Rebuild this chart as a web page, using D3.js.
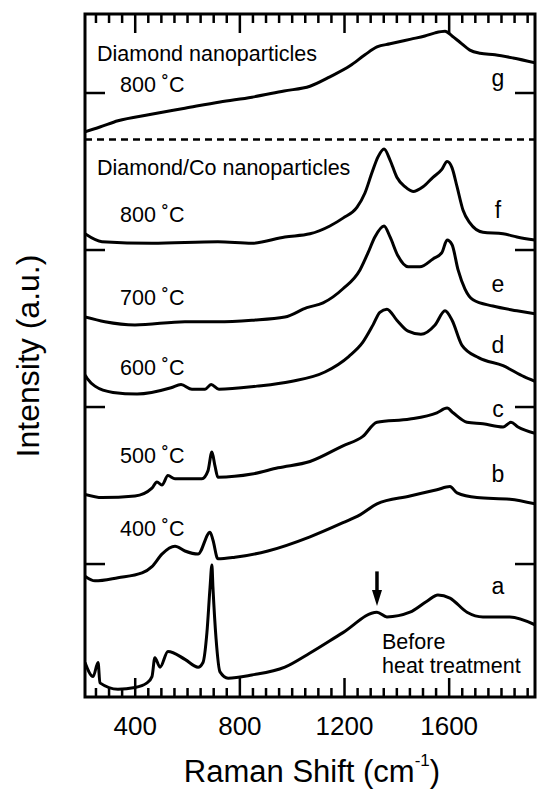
<!DOCTYPE html>
<html>
<head>
<meta charset="utf-8">
<script src="https://cdn.jsdelivr.net/npm/d3@7"></script>
<style>
  body { margin: 0; background: #fff; }
  text { font-family: "Liberation Sans", Arial, sans-serif; fill: #000; }
</style>
</head>
<body>
<div id="chart"></div>
<script>
// Raman shift (cm-1) and stacked intensity (a.u.)
const gShift = [210, 267, 336, 458, 592, 726, 848, 971, 1070, 1146, 1223, 1280, 1326, 1376, 1456, 1509, 1548, 1586, 1613, 1643, 1681, 1720, 1777, 1846, 1930];
const gInt   = [27.5, 27.8, 28.2, 28.6, 29.0, 29.4, 29.7, 30.1, 30.4, 31.0, 31.7, 32.4, 32.9, 33.1, 33.4, 33.6, 33.8, 33.9, 33.6, 33.2, 32.7, 32.5, 32.4, 32.2, 31.9];

const fShift = [210, 275, 466, 718, 848, 974, 1070, 1146, 1196, 1250, 1280, 1307, 1330, 1353, 1376, 1402, 1433, 1464, 1502, 1540, 1574, 1594, 1613, 1632, 1655, 1681, 1731, 1808, 1861, 1930];
const fInt   = [21.0, 20.5, 20.4, 20.5, 20.4, 20.8, 21.0, 21.5, 22.0, 22.7, 23.6, 24.9, 25.9, 26.4, 25.7, 24.6, 24.0, 23.7, 24.0, 24.6, 25.1, 25.6, 25.2, 24.0, 22.5, 21.7, 21.1, 21.0, 20.8, 20.6];

const eShift = [210, 286, 401, 592, 718, 848, 974, 1058, 1120, 1196, 1261, 1292, 1318, 1353, 1376, 1406, 1445, 1490, 1540, 1574, 1594, 1613, 1636, 1662, 1693, 1769, 1861, 1930];
const eInt   = [15.7, 15.4, 15.2, 15.4, 15.4, 15.5, 15.7, 16.3, 16.6, 17.5, 18.7, 19.8, 20.8, 21.5, 20.8, 19.6, 18.9, 18.9, 19.4, 19.8, 20.6, 20.3, 18.7, 17.5, 16.8, 16.4, 16.1, 15.9];

const dShift = [210, 218, 248, 317, 409, 539, 577, 619, 669, 692, 722, 867, 997, 1127, 1219, 1272, 1311, 1337, 1364, 1402, 1445, 1494, 1548, 1586, 1613, 1651, 1716, 1808, 1888, 1930];
const dInt   = [12.0, 11.8, 11.3, 10.9, 10.8, 11.2, 11.4, 11.1, 11.1, 11.4, 11.1, 11.3, 11.6, 12.2, 13.2, 14.1, 15.2, 16.0, 16.2, 15.5, 14.8, 14.6, 15.2, 16.1, 15.5, 13.9, 13.1, 12.6, 11.9, 11.6];

const cShift = [210, 275, 401, 466, 485, 504, 527, 554, 657, 680, 695, 707, 718, 848, 948, 1070, 1196, 1272, 1326, 1452, 1555, 1594, 1617, 1670, 1731, 1808, 1838, 1865, 1930];
const cInt   = [4.4, 4.2, 4.3, 4.8, 5.2, 5.0, 5.6, 5.4, 5.4, 5.9, 7.1, 6.2, 5.5, 5.7, 6.1, 6.5, 7.5, 8.1, 9.0, 9.2, 9.6, 9.9, 9.6, 9.0, 8.9, 8.7, 9.0, 8.7, 8.3];

const bShift = [210, 248, 336, 428, 466, 504, 554, 592, 642, 688, 699, 718, 783, 909, 1070, 1196, 1261, 1326, 1452, 1555, 1605, 1632, 1708, 1834, 1930];
const bInt   = [-0.8, -1.1, -0.9, -0.6, -0.2, 0.6, 1.1, 0.8, 0.6, 2.0, 1.5, 0.3, 0.4, 0.8, 1.7, 2.6, 3.1, 3.8, 4.3, 4.7, 4.9, 4.5, 4.2, 4.1, 3.8];

const aShift = [210, 241, 260, 267, 336, 401, 447, 466, 477, 497, 527, 592, 642, 661, 676, 688, 695, 699, 711, 726, 757, 848, 974, 1070, 1196, 1326, 1364, 1452, 1517, 1559, 1605, 1670, 1731, 1834, 1930];
const aInt   = [-6.3, -7.2, -6.3, -7.6, -8.0, -7.9, -7.6, -7.2, -6.0, -6.6, -5.6, -6.1, -6.6, -6.3, -4.4, -1.5, -0.1, -1.5, -4.8, -6.9, -7.3, -7.1, -6.6, -5.7, -4.4, -3.1, -3.4, -3.1, -2.4, -2.0, -2.2, -3.1, -3.4, -3.4, -3.9];

const curveLetters = ["g", "f", "e", "d", "c", "b", "a"];
const tempLabels = ["800 ˚C", "800 ˚C", "700 ˚C", "600 ˚C", "500 ˚C", "400 ˚C"];
const majorTicks = [400, 800, 1200, 1600];
const minorTicks = d3.range(250, 1930, 50).filter(v => v % 400 !== 0);
const yTicks = [0, 10, 20, 30];
const dashedLevel = 27;
const arrowShift = 1326, arrowTop = -0.5, arrowTip = -2.7;

const spectra = [
  { shift: gShift, inten: gInt },
  { shift: fShift, inten: fInt },
  { shift: eShift, inten: eInt },
  { shift: dShift, inten: dInt },
  { shift: cShift, inten: cInt },
  { shift: bShift, inten: bInt },
  { shift: aShift, inten: aInt }
];

const W = 537, H = 789;
const plotL = 85, plotR = 535, plotT = 14, plotB = 697;

const svg = d3.select("#chart").append("svg")
  .attr("width", W).attr("height", H);

const x = d3.scaleLinear().domain([210, 1930]).range([plotL, plotR]);
const y = d3.scaleLinear().domain([-8.5, 35]).range([plotB, plotT]);

svg.append("clipPath").attr("id", "plot")
  .append("rect").attr("x", plotL).attr("y", plotT)
  .attr("width", plotR - plotL).attr("height", plotB - plotT);

// spectra
const line = d3.line().x(d => x(d[0])).y(d => y(d[1])).curve(d3.curveMonotoneX);
svg.append("g").attr("clip-path", "url(#plot)")
  .selectAll("path")
  .data(spectra)
  .enter().append("path")
  .attr("d", s => line(s.shift.map((v, i) => [v, s.inten[i]])))
  .attr("fill", "none")
  .attr("stroke", "#000")
  .attr("stroke-width", 3)
  .attr("stroke-linejoin", "round");

// dashed separator
svg.append("line")
  .attr("x1", plotL).attr("x2", plotR)
  .attr("y1", y(dashedLevel)).attr("y2", y(dashedLevel))
  .attr("stroke", "#000").attr("stroke-width", 2.5)
  .attr("stroke-dasharray", "7,5");

// axes
function styleAxis(g) {
  g.select(".domain").remove();
  g.selectAll(".tick line").attr("stroke", "#000").attr("stroke-width", 2.5);
}
svg.append("g").attr("transform", `translate(0,${plotB})`)
  .call(d3.axisBottom(x).tickValues(minorTicks).tickSize(-9).tickFormat(""))
  .call(styleAxis);
svg.append("g").attr("transform", `translate(0,${plotB})`)
  .call(d3.axisBottom(x).tickValues(majorTicks).tickSize(-19).tickPadding(20)
    .tickFormat(d3.format("d")))
  .call(styleAxis)
  .call(g => g.selectAll(".tick text")
    .attr("font-size", 26)
    .attr("font-family", '"Liberation Sans", Arial, sans-serif')
    .attr("fill", "#000"));
svg.append("g").attr("transform", `translate(0,${plotT})`)
  .call(d3.axisTop(x).tickValues(minorTicks).tickSize(-9).tickFormat(""))
  .call(styleAxis);
svg.append("g").attr("transform", `translate(0,${plotT})`)
  .call(d3.axisTop(x).tickValues(majorTicks).tickSize(-19).tickFormat(""))
  .call(styleAxis);
svg.append("g").attr("transform", `translate(${plotL},0)`)
  .call(d3.axisLeft(y).tickValues(yTicks).tickSize(-20).tickFormat(""))
  .call(styleAxis);
svg.append("g").attr("transform", `translate(${plotR},0)`)
  .call(d3.axisRight(y).tickValues(yTicks).tickSize(-20).tickFormat(""))
  .call(styleAxis);

// frame
svg.append("rect")
  .attr("x", plotL).attr("y", plotT)
  .attr("width", plotR - plotL).attr("height", plotB - plotT)
  .attr("fill", "none").attr("stroke", "#000").attr("stroke-width", 3);

// arrow marking the feature near 1320 cm-1
svg.append("line")
  .attr("x1", x(arrowShift)).attr("x2", x(arrowShift))
  .attr("y1", y(arrowTop)).attr("y2", y(arrowTip) - 8)
  .attr("stroke", "#000").attr("stroke-width", 3.5);
svg.append("path")
  .attr("d", `M${x(arrowShift) - 5},${y(arrowTip) - 16} L${x(arrowShift) + 5},${y(arrowTip) - 16} L${x(arrowShift)},${y(arrowTip)} Z`)
  .attr("fill", "#000");

// annotations
const letterY = [86, 218, 292, 353, 417, 482, 594];
svg.selectAll(".letter").data(curveLetters).enter().append("text")
  .attr("class", "letter")
  .attr("x", 498).attr("y", (d, i) => letterY[i])
  .attr("text-anchor", "middle")
  .attr("font-size", 23)
  .text(d => d);

const tempY = [92, 222, 305, 375, 463, 536];
svg.selectAll(".temp").data(tempLabels).enter().append("text")
  .attr("class", "temp")
  .attr("x", 120).attr("y", (d, i) => tempY[i])
  .attr("font-size", 21.5)
  .text(d => d);

svg.append("text").attr("x", 97).attr("y", 61).attr("font-size", 21.5)
  .text("Diamond nanoparticles");
svg.append("text").attr("x", 97).attr("y", 175).attr("font-size", 21.5)
  .text("Diamond/Co nanoparticles");
svg.append("text").attr("x", 382).attr("y", 649).attr("font-size", 21.5)
  .text("Before");
svg.append("text").attr("x", 382).attr("y", 673).attr("font-size", 21.5)
  .text("heat treatment");

// axis titles
svg.append("text")
  .attr("transform", "translate(39,356) rotate(-90)")
  .attr("text-anchor", "middle")
  .attr("font-size", 32)
  .text("Intensity (a.u.)");

const xt = svg.append("text")
  .attr("x", 312).attr("y", 782)
  .attr("text-anchor", "middle")
  .attr("font-size", 31);
xt.append("tspan").text("Raman Shift (cm");
xt.append("tspan").attr("dy", -16).attr("font-size", 17).text("-1");
xt.append("tspan").attr("dy", 16).text(")");
</script>
</body>
</html>
